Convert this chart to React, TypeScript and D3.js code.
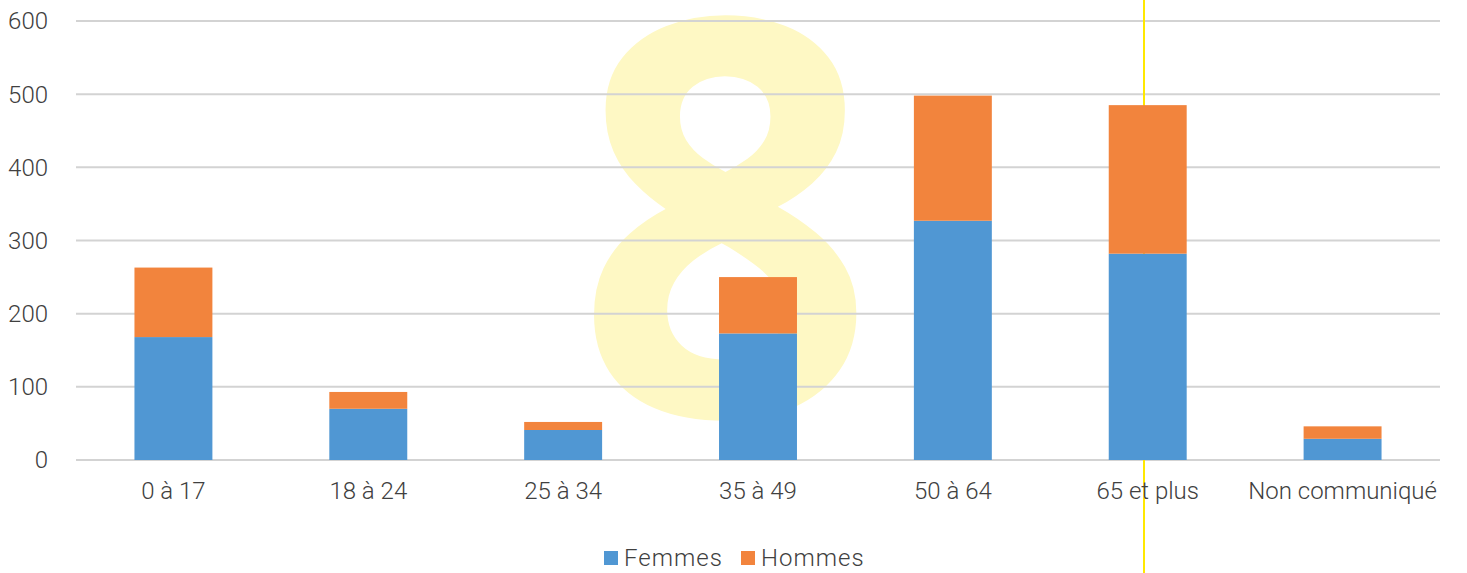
import React, { useEffect, useRef } from 'react'
import * as d3 from 'd3'

const categories = ['0 à 17', '18 à 24', '25 à 34', '35 à 49', '50 à 64', '65 et plus', 'Non communiqué']
const femmes = [168, 70, 41, 173, 327, 282, 29]
const hommes = [95, 23, 11, 77, 171, 203, 17]
const seriesNames = ['Femmes', 'Hommes']
const seriesColors = ['#5097D3', '#F2843D']
const yTicks = [0, 100, 200, 300, 400, 500, 600]

const W = 1467
const H = 573
const margin = { top: 21, right: 27, bottom: 113, left: 76 }
const font = "Roboto, 'Open Sans', sans-serif"
const markFamily = "'Open Sans'"
const markWeight = 700

export default function App () {
  const ref = useRef<SVGSVGElement>(null)

  useEffect(() => {
    const svg = d3.select(ref.current)
    svg.selectAll('*').remove()

    const x = d3.scaleBand()
      .domain(categories)
      .range([margin.left, W - margin.right])
      .paddingInner(0.6)
      .paddingOuter(0.3)

    const y = d3.scaleLinear()
      .domain([0, 600])
      .range([H - margin.bottom, margin.top])

    // watermark "8" behind everything, fitted on its ink box
    const ctx = document.createElement('canvas').getContext('2d') as CanvasRenderingContext2D
    ctx.font = `${markWeight} 500px ${markFamily}`
    const m = ctx.measureText('8')
    const inkW = m.actualBoundingBoxLeft + m.actualBoundingBoxRight
    const inkH = m.actualBoundingBoxAscent + m.actualBoundingBoxDescent
    const boxX = 592, boxY = 9, boxW = 270, boxH = 415
    svg.append('text')
      .text('8')
      .attr('font-family', markFamily)
      .attr('font-weight', markWeight)
      .attr('font-size', 500)
      .attr('fill', '#FEF8C4')
      .attr('transform', `translate(${boxX},${boxY}) scale(${boxW / inkW},${boxH / inkH}) translate(${m.actualBoundingBoxLeft},${m.actualBoundingBoxAscent})`)

    svg.append('g')
      .selectAll('line')
      .data(yTicks)
      .enter()
      .append('line')
      .attr('x1', margin.left)
      .attr('x2', W - margin.right)
      .attr('y1', d => y(d))
      .attr('y2', d => y(d))
      .attr('stroke', '#D3D3D3')
      .attr('stroke-width', 2)

    // yellow vertical line
    svg.append('line')
      .attr('x1', 1144)
      .attr('x2', 1144)
      .attr('y1', 0)
      .attr('y2', H)
      .attr('stroke', '#FFE800')
      .attr('stroke-width', 2)

    const rows = categories.map((c, i) => ({ cat: c, Femmes: femmes[i], Hommes: hommes[i] }))
    const stack = d3.stack<any>().keys(seriesNames)(rows)

    stack.forEach((layer, si) => {
      svg.append('g')
        .selectAll('rect')
        .data(layer)
        .enter()
        .append('rect')
        .attr('x', d => x(d.data.cat) as number)
        .attr('width', x.bandwidth())
        .attr('y', d => y(d[1]))
        .attr('height', d => y(d[0]) - y(d[1]))
        .attr('fill', seriesColors[si])
    })

    // y labels
    svg.append('g')
      .selectAll('text')
      .data(yTicks)
      .enter()
      .append('text')
      .attr('x', 48)
      .attr('y', d => y(d))
      .attr('dy', '0.35em')
      .attr('text-anchor', 'end')
      .attr('font-family', font)
      .attr('font-weight', 300)
      .attr('font-size', 24)
      .attr('fill', '#404040')
      .text(d => d)

    // x labels
    svg.append('g')
      .selectAll('text')
      .data(categories)
      .enter()
      .append('text')
      .attr('x', d => (x(d) as number) + x.bandwidth() / 2)
      .attr('y', 499)
      .attr('text-anchor', 'middle')
      .attr('font-family', font)
      .attr('font-weight', 300)
      .attr('font-size', 24)
      .attr('fill', '#404040')
      .text(d => d)

    // legend
    const legend = svg.append('g').attr('transform', 'translate(604,551)')
    const offsets = [0, 137]
    seriesNames.forEach((name, i) => {
      const item = legend.append('g').attr('transform', `translate(${offsets[i]},0)`)
      item.append('rect')
        .attr('width', 14)
        .attr('height', 14)
        .attr('fill', seriesColors[i])
      item.append('text')
        .attr('x', 20)
        .attr('y', 7)
        .attr('dy', '0.35em')
        .attr('font-family', font)
        .attr('font-weight', 300)
        .attr('font-size', 24)
        .attr('letter-spacing', 1)
        .attr('fill', '#404040')
        .text(name)
    })
  }, [])

  return (
    <svg ref={ref} width={W} height={H} style={{ position: 'absolute', left: 0, top: 0, background: '#fff' }} />
  )
}
